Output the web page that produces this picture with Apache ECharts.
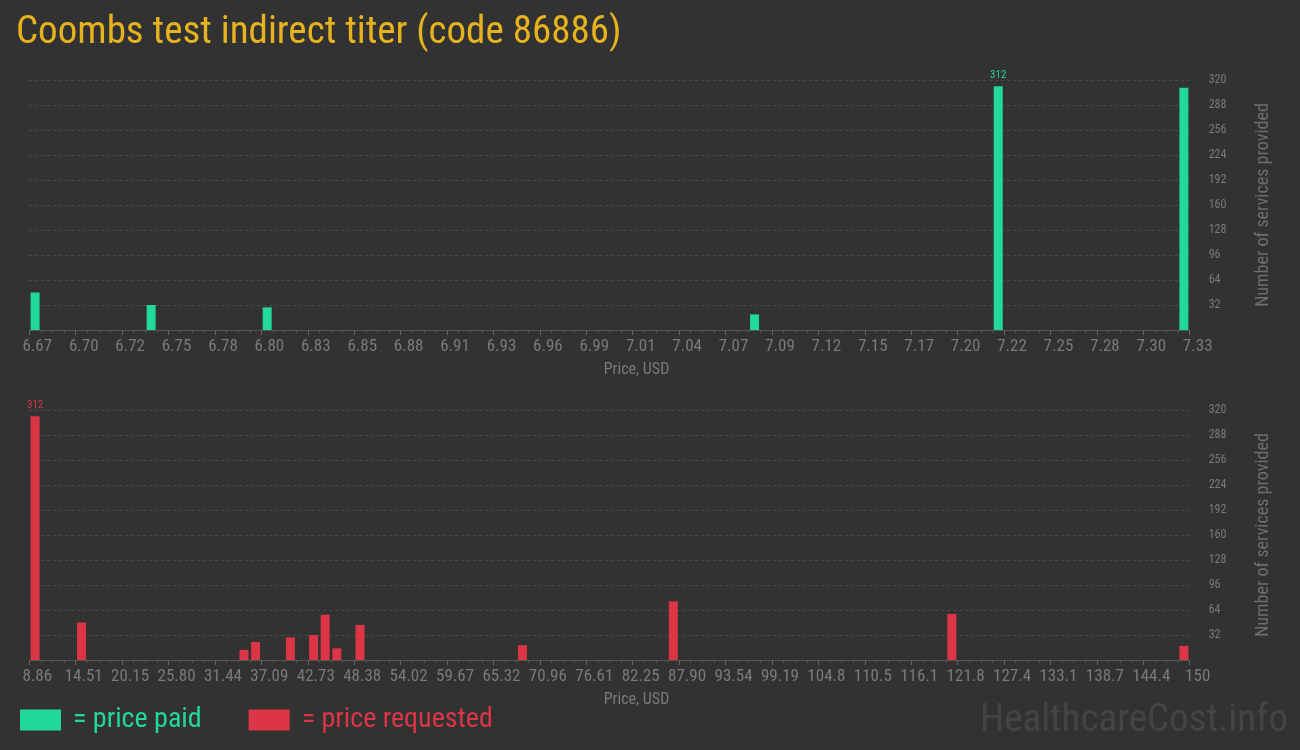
<!DOCTYPE html>
<html>
<head>
<meta charset="utf-8">
<script src="https://cdn.jsdelivr.net/npm/echarts@6/dist/echarts.min.js"></script>
<style>
html,body{margin:0;padding:0;background:#323232;}
#c{width:1300px;height:750px;}
</style>
</head>
<body>
<div id="c"></div>
<script>
var titleText = 'Coombs test indirect titer (code 86886)';
var paidTickLabels = ['6.67','6.70','6.72','6.75','6.78','6.80','6.83','6.85','6.88','6.91','6.93','6.96','6.99','7.01','7.04','7.07','7.09','7.12','7.15','7.17','7.20','7.22','7.25','7.28','7.30','7.33'];
var requestedTickLabels = ['8.86','14.51','20.15','25.80','31.44','37.09','42.73','48.38','54.02','59.67','65.32','70.96','76.61','82.25','87.90','93.54','99.19','104.8','110.5','116.1','121.8','127.4','133.1','138.7','144.4','150'];
// histogram bins (0..99) and number of services in each
var paidBins = [0, 10, 20, 62, 83, 99];
var paidCounts = [48, 32, 29, 20, 312, 310];
var requestedBins = [0, 4, 18, 19, 22, 24, 25, 26, 28, 42, 55, 79, 99];
var requestedCounts = [312, 48, 13, 23, 29, 32, 58, 15, 45, 19, 75, 59, 18];

var GREEN = '#21d99a';
var RED = '#dc3545';
var FONT = '"Roboto Condensed","Liberation Sans Narrow","DejaVu Sans Condensed","Arial Narrow",Roboto,sans-serif';

function toData(bins, counts) {
  var mx = Math.max.apply(null, counts);
  return bins.map(function (b, i) {
    var item = { value: [b + 0.5, counts[i]] };
    if (counts[i] === mx) item.label = { show: true };
    return item;
  });
}

function xAxis(gridIndex, labels) {
  return {
    type: 'value', gridIndex: gridIndex, min: 0, max: 100, interval: 4,
    name: 'Price, USD', nameLocation: 'middle', nameGap: 32,
    nameTextStyle: { color: '#7a7a7a', fontSize: 16, fontFamily: FONT, padding: [0, 0, 0, 54] },
    axisLine: { show: true, lineStyle: { color: '#555' } },
    axisTick: { show: true, length: 5, lineStyle: { color: '#666' } },
    minorTick: { show: true, splitNumber: 4, length: 3, lineStyle: { color: '#555' } },
    splitLine: { show: false },
    axisLabel: {
      color: '#7a7a7a', fontSize: 17, fontFamily: FONT, margin: 8,
      padding: [0, 0, 0, 16],
      formatter: function (v) { return labels[Math.round(v / 4)]; }
    }
  };
}

function yAxis(gridIndex) {
  return {
    type: 'value', gridIndex: gridIndex, position: 'right', min: 0, max: 320, interval: 32,
    name: 'Number of services provided', nameLocation: 'middle', nameRotate: 90, nameGap: 65,
    nameTextStyle: { color: '#6e6e6e', fontSize: 18, fontFamily: FONT },
    axisLine: { show: false }, axisTick: { show: false },
    splitLine: { show: true, lineStyle: { color: '#4a4a4a', type: [3, 3], width: 1 } },
    axisLabel: { color: '#7a7a7a', fontSize: 12, fontFamily: FONT, margin: 19, showMinLabel: false }
  };
}

var chart = echarts.init(document.getElementById('c'));
chart.setOption({
  backgroundColor: '#323232',
  animation: false,
  title: {
    text: titleText, left: 11, top: 9,
    textStyle: { color: '#e6b31e', fontSize: 39, fontWeight: 'normal', fontFamily: FONT }
  },
  legend: {
    left: 15, top: 701, itemWidth: 41, itemHeight: 21, itemGap: 47, icon: 'rect',
    selectedMode: false,
    textStyle: { fontSize: 28, fontFamily: FONT, padding: [0, 0, 0, 7] },
    data: [
      { name: '= price paid', textStyle: { color: GREEN } },
      { name: '= price requested', textStyle: { color: RED } }
    ]
  },
  graphic: [{
    type: 'text', right: 12, top: 702,
    style: { text: 'HealthcareCost.info', fill: '#444444', fontSize: 39, fontFamily: FONT }
  }],
  grid: [
    { left: 29.3, right: 110.3, top: 80, height: 250 },
    { left: 29.3, right: 110.3, top: 410, height: 250 }
  ],
  xAxis: [xAxis(0, paidTickLabels), xAxis(1, requestedTickLabels)],
  yAxis: [yAxis(0), yAxis(1)],
  series: [
    {
      name: '= price paid', type: 'bar', xAxisIndex: 0, yAxisIndex: 0, barWidth: 9,
      itemStyle: { color: GREEN },
      label: { show: false, position: 'top', distance: 6, color: GREEN, fontSize: 11, fontFamily: FONT },
      data: toData(paidBins, paidCounts)
    },
    {
      name: '= price requested', type: 'bar', xAxisIndex: 1, yAxisIndex: 1, barWidth: 9,
      itemStyle: { color: RED },
      label: { show: false, position: 'top', distance: 6, color: RED, fontSize: 11, fontFamily: FONT },
      data: toData(requestedBins, requestedCounts)
    }
  ]
});
</script>
</body>
</html>
